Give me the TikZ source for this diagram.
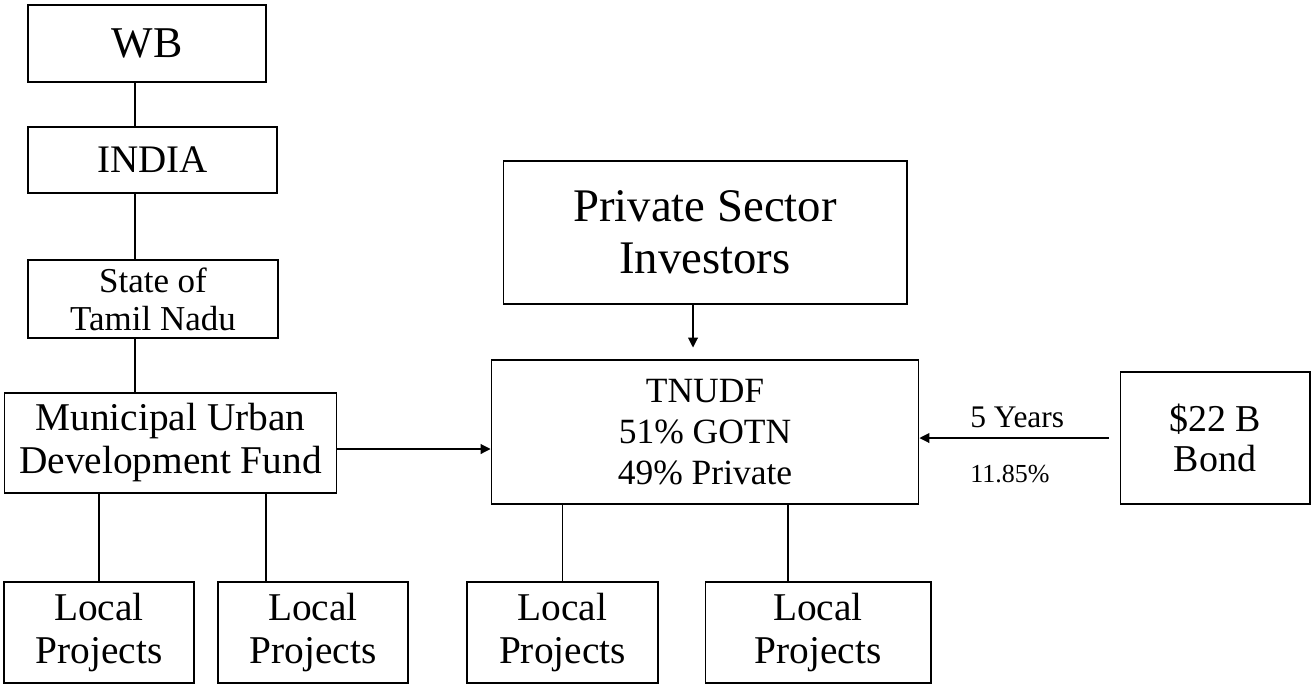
\documentclass[tikz,border=0pt]{standalone}
\usepackage{fontspec}
\setmainfont{Liberation Serif}
\usepackage{tikz}
\usetikzlibrary{arrows.meta}

\tikzset{
    unitbox/.style={draw, line width=0.6pt, inner sep=0pt, align=center},
    link/.style={line width=0.6pt},
    feed/.style={line width=0.6pt, ->},
    >={Triangle[length=0.2cm, width=0.2cm]}
}

\begin{document}
\begin{tikzpicture}[x=0.02cm, y=-0.02cm]

    \useasboundingbox (0, 0) rectangle (1311, 684);

    % Left column: lender down to the state
    \node[unitbox, minimum width=4.76cm, minimum height=1.54cm,
        font=\fontsize{25pt}{30pt}\selectfont] (wb) at (147, 43.5) {WB};
    \node[unitbox, minimum width=4.98cm, minimum height=1.32cm,
        font=\fontsize{22.2pt}{26pt}\selectfont] (india) at (152.5, 160) {INDIA};
    \node[unitbox, minimum width=5cm, minimum height=1.56cm,
        font=\fontsize{19.9pt}{21.6pt}\selectfont] (state) at (153, 299) {State of\\Tamil Nadu};

    % Municipal fund
    \node[unitbox, minimum width=6.66cm, minimum height=2cm,
        font=\fontsize{22.4pt}{24.5pt}\selectfont] (mudf) at (170.5, 443) {Municipal Urban\\Development Fund};

    % Private investors and TNUDF
    \node[unitbox, minimum width=8.08cm, minimum height=2.86cm,
        font=\fontsize{26.6pt}{29.6pt}\selectfont] (psi) at (705, 232.5) {Private Sector\\Investors};
    \node[unitbox, minimum width=8.56cm, minimum height=2.88cm,
        font=\fontsize{20.2pt}{23.3pt}\selectfont] (tnudf) at (705, 432) {TNUDF\\51\% GOTN\\49\% Private};

    % Bond
    \node[unitbox, minimum width=3.8cm, minimum height=2.64cm,
        font=\fontsize{21.6pt}{22.8pt}\selectfont] (bond) at (1215, 438) {\$22 B\\Bond};

    % Local projects
    \node[unitbox, minimum width=3.8cm, minimum height=2.02cm,
        font=\fontsize{22.4pt}{25pt}\selectfont] (lp1) at (99, 632.5) {Local\\Projects};
    \node[unitbox, minimum width=3.8cm, minimum height=2.02cm,
        font=\fontsize{22.4pt}{25pt}\selectfont] (lp2) at (313, 632.5) {Local\\Projects};
    \node[unitbox, minimum width=3.82cm, minimum height=2.02cm,
        font=\fontsize{22.4pt}{25pt}\selectfont] (lp3) at (562.5, 632.5) {Local\\Projects};
    \node[unitbox, minimum width=4.52cm, minimum height=2.02cm,
        font=\fontsize{22.4pt}{25pt}\selectfont] (lp4) at (818, 632.5) {Local\\Projects};

    % Where the lines run
    \coordinate (trunk) at (135, 0);
    \coordinate (lp2line) at (266, 0);
    \coordinate (lp4line) at (788, 0);
    \coordinate (psiline) at (693, 0);
    \coordinate (fundline) at (0, 449);

    % Plain lines
    \draw[link] (wb.south -| trunk) -- (india.north -| trunk);
    \draw[link] (india.south -| trunk) -- (state.north -| trunk);
    \draw[link] (state.south -| trunk) -- (mudf.north -| trunk);
    \draw[link] (mudf.south -| lp1.north) -- (lp1.north);
    \draw[link] (mudf.south -| lp2line) -- (lp2.north -| lp2line);
    \draw[link] (tnudf.south -| lp3.north) -- (lp3.north);
    \draw[link] (tnudf.south -| lp4line) -- (lp4.north -| lp4line);

    % Arrows into TNUDF
    \draw[feed] (psi.south -| psiline) -- ([yshift=0.24cm]tnudf.north -| psiline);
    \draw[feed] (mudf.east |- fundline) -- (tnudf.west |- fundline);
    \draw[feed] ([xshift=-0.22cm]bond.west) -- (bond.west -| tnudf.east);

    % Bond terms
    \node[anchor=base west, inner sep=0pt, font=\fontsize{17.9pt}{20pt}\selectfont] (years) at (970, 427) {5 Years};
    \node[anchor=base west, inner sep=0pt, font=\fontsize{14.8pt}{17pt}\selectfont] (rate) at (970, 482) {11.85\%};

\end{tikzpicture}
\end{document}
